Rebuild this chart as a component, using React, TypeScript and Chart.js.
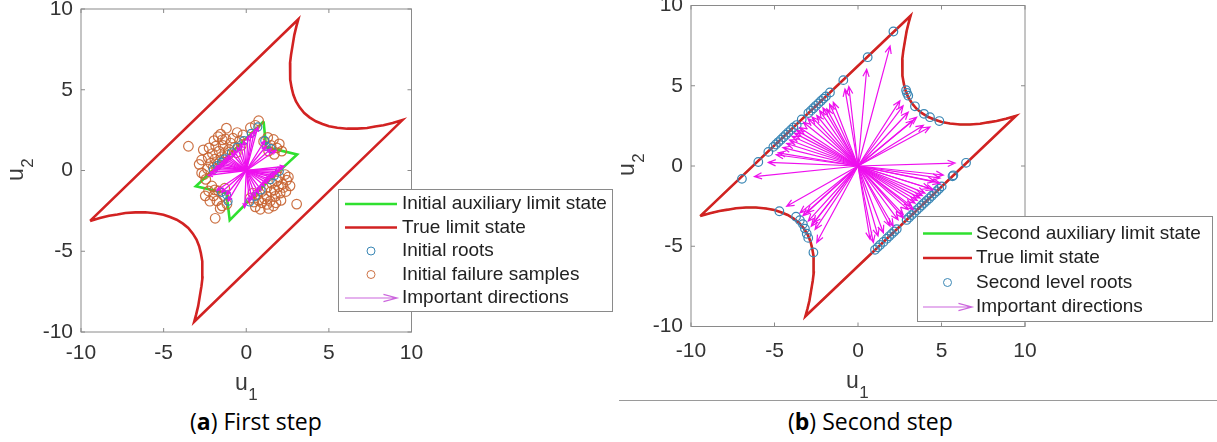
import React, { useEffect, useRef } from "react";
import { Chart, registerables } from "chart.js";

Chart.register(...registerables);

// ---------------- data ----------------
const tickValues = [-10, -5, 0, 5, 10];
const tickLabels = ["-10", "-5", "0", "5", "10"];

// True limit state (closed loop: left corner -> top corner -> upper arc -> right corner -> bottom corner -> lower arc)
const limitU1 = [-9.45, 3.15, 3.03, 2.91, 2.81, 2.71, 2.65, 2.65, 2.67, 2.75, 2.85, 3.01, 3.23, 3.51, 3.83, 4.21, 4.61, 5.01, 5.51, 6.11, 6.71, 7.31, 7.8, 8.3, 8.86, 9.45,
  -3.15, -3.03, -2.91, -2.81, -2.71, -2.65, -2.65, -2.67, -2.75, -2.85, -3.01, -3.23, -3.51, -3.83, -4.21, -4.61, -5.01, -5.51, -6.11, -6.71, -7.31, -7.8, -8.3, -8.86, -9.45];
const limitU2 = [-3.12, 9.36, 8.91, 8.4, 7.78, 7.16, 6.65, 6.13, 5.62, 5.1, 4.69, 4.28, 3.91, 3.56, 3.29, 3.05, 2.88, 2.74, 2.65, 2.59, 2.59, 2.63, 2.72, 2.8, 2.94, 3.12,
  -9.36, -8.91, -8.4, -7.78, -7.16, -6.65, -6.13, -5.62, -5.1, -4.69, -4.28, -3.91, -3.56, -3.29, -3.05, -2.88, -2.74, -2.65, -2.59, -2.59, -2.63, -2.72, -2.8, -2.94, -3.12];

// Initial auxiliary limit state (star)
const starU1 = [1.05, 1.2, 3.08, 1.2, -1.0, -1.2, -3.05, -1.2, 1.05];
const starU2 = [3.04, 1.45, 0.99, -0.8, -3.07, -1.4, -0.98, 0.8, 3.04];

// Initial failure samples
const failureSamples: [number, number][] = [
  [-3.5, 1.5], [-2.85, 0.38], [-2.6, 1.28], [-2.3, 0.8], [-2.55, -0.25], [-2.35, 0.1], [-2.15, 0.45], [-2.05, 1.05],
  [-1.9, 0.7], [-1.85, 1.5], [-1.7, 2.1], [-1.55, 2.25], [-1.65, 1.2], [-1.5, 0.85], [-1.4, 1.55], [-1.25, 1.95],
  [-1.2, 2.62], [-1.05, 1.3], [-0.95, 1.7], [-0.8, 2.0], [-0.7, 1.45], [-0.55, 2.35], [-0.4, 1.85], [-0.2, 2.2],
  [0.25, 2.65], [0.75, 3.08], [0.55, 2.8], [-2.0, 0.2], [-1.75, 0.4], [-1.3, 1.1], [-1.1, 0.95], [-2.25, 1.4],
  [-1.95, 1.85], [-1.45, 1.9], [-2.7, 0.65], [-0.6, 1.1], [-0.3, 1.55], [-1.6, 0.55], [-2.45, -0.55], [-2.7, -0.15],
  [1.05, 1.8], [1.3, 2.05], [1.65, 1.92], [1.85, 1.4], [2.15, 1.2], [1.5, 1.55], [1.7, 1.0], [2.0, 1.65], [1.35, 1.2],
  [-2.28, -1.27], [-2.48, -1.57], [-1.98, -1.57], [-1.78, -1.88], [-1.47, -2.19], [-1.17, -2.09], [-1.68, -1.27],
  [-1.37, -1.55], [-2.08, -0.96], [-1.58, -2.35], [-1.88, -2.96], [-2.2, -1.9], [-1.3, -1.1], [-1.9, -1.2],
  [3.05, -2.08], [0.25, -1.7], [0.45, -1.95], [0.65, -1.5], [0.95, -1.3], [1.25, -1.05], [1.25, -1.6], [1.45, -1.9],
  [1.75, -1.6], [2.05, -1.4], [2.25, -1.05], [1.65, -2.2], [1.25, -2.1], [0.95, -2.0], [0.75, -1.85], [2.35, -0.25],
  [2.45, -0.6], [1.85, -0.65], [2.2, -0.85], [1.95, -1.0], [1.5, -1.3], [1.1, -1.75], [2.55, -0.4], [2.4, -1.3],
  [2.1, -1.85], [0.55, -2.25], [1.55, -0.8], [1.35, -2.35], [0.85, -2.4], [2.65, -0.95], [1.8, -2.0], [0.4, -1.4],
  [2.0, -0.4], [1.7, -1.2]
];

// Initial roots
const initialRoots: [number, number][] = [
  [-2.0, 0.05], [-1.75, 0.3], [-1.5, 0.52], [-1.3, 0.72], [-0.9, 1.1], [-0.55, 1.45], [-0.15, 1.85], [0.3, 2.3],
  [0.7, 2.7], [1.12, 1.85], [1.2, 1.5], [1.5, 1.35], [2.0, -0.05], [1.7, -0.33], [1.45, -0.57], [0.9, -1.2],
  [0.55, -1.6], [0.2, -1.95], [-1.1, -1.9], [-1.2, -1.5], [-1.5, -1.35]
];

// Important directions, first step (arrow tips, from origin)
const initialArrows: [number, number][] = [
  [-2.3, -0.3], [-2.15, -0.1], [-2.0, 0.05], [-1.85, 0.2], [-1.75, 0.3], [-1.6, 0.42], [-1.5, 0.52], [-1.4, 0.62],
  [-1.3, 0.72], [-1.2, 0.82], [-1.1, 0.92], [-0.9, 1.1], [-0.75, 1.25], [-0.55, 1.45], [-0.35, 1.65], [-0.15, 1.85],
  [0.1, 2.1], [0.3, 2.3], [0.5, 2.5], [0.7, 2.7], [1.12, 1.85], [1.2, 1.5], [1.5, 1.35], [1.8, 1.25],
  [2.3, 0.25], [2.15, 0.1], [2.0, -0.05], [1.85, -0.2], [1.7, -0.33], [1.6, -0.43], [1.45, -0.57], [1.35, -0.65],
  [1.25, -0.78], [1.1, -0.95], [0.9, -1.2], [0.75, -1.4], [0.55, -1.6], [0.35, -1.8], [0.2, -1.95], [-0.1, -2.3],
  [-1.1, -1.9], [-1.2, -1.5], [-1.5, -1.35], [-1.8, -1.25]
];

// Second level roots
const secondRoots: [number, number][] = [
  [-6.95, -0.8], [-5.97, 0.25], [-5.37, 0.88], [-5.07, 1.19], [-4.92, 1.34], [-4.77, 1.49], [-4.62, 1.64], [-4.47, 1.79],
  [-4.32, 1.95], [-4.17, 2.1], [-4.02, 2.25], [-3.87, 2.4], [-3.67, 2.55], [-3.37, 2.9], [-2.97, 3.3], [-2.82, 3.45],
  [-2.67, 3.6], [-2.52, 3.75], [-2.37, 3.9], [-2.22, 4.05], [-2.07, 4.2], [-1.92, 4.34], [-1.68, 4.58], [-0.88, 5.35],
  [0.58, 6.78], [2.12, 8.38],
  [2.88, 4.72], [2.93, 4.55], [3.01, 4.38], [3.41, 3.72], [3.95, 3.25], [4.31, 3.04], [4.87, 2.8],
  [6.47, 0.2], [5.71, -0.58], [5.66, -0.64], [5.01, -1.27], [4.86, -1.42], [4.71, -1.57], [4.56, -1.72], [4.41, -1.87],
  [4.26, -2.02], [4.11, -2.17], [3.96, -2.31], [3.81, -2.46], [3.66, -2.61], [3.51, -2.76], [3.36, -2.91], [3.21, -3.06],
  [3.06, -3.21], [2.91, -3.36], [2.32, -3.93], [2.17, -4.08], [2.02, -4.23], [1.87, -4.38], [1.72, -4.53], [1.52, -4.73],
  [1.32, -4.92], [1.17, -5.07], [1.02, -5.22],
  [-4.71, -2.82], [-3.71, -3.16], [-3.48, -3.38], [-3.3, -3.62], [-3.18, -3.9], [-3.07, -4.22], [-2.98, -4.48], [-2.67, -5.39]
];

// Important directions, second step (arrow tips, from origin)
const secondArrows: [number, number][] = [
  [-6.2, -0.66], [-5.37, 0.22], [-4.9, 0.7], [-4.77, 0.82], [-4.5, 1.15], [-4.27, 1.4], [-4.1, 1.62], [-3.95, 1.85],
  [-3.8, 2.05], [-3.67, 2.22], [-3.5, 2.4], [-3.27, 2.73], [-3.0, 2.95], [-2.75, 3.05], [-2.47, 3.15], [-2.3, 3.45],
  [-2.1, 3.62], [-1.87, 3.56], [-1.7, 3.85], [-1.48, 3.97], [-0.78, 4.79], [-0.55, 4.95], [0.52, 6.03], [1.92, 7.47],
  [2.51, 4.07], [2.7, 3.75], [3.01, 3.35], [3.31, 2.84], [3.51, 3.04], [3.91, 2.53], [4.31, 2.43], [5.81, 0.18],
  [5.11, -0.56], [4.91, -0.75], [4.91, -1.07], [4.61, -0.97], [4.51, -1.48], [4.3, -1.4], [4.01, -1.69], [3.85, -1.85],
  [3.71, -2.0], [3.55, -2.15], [3.41, -2.31], [3.31, -2.72], [3.2, -2.5], [3.01, -2.72], [2.71, -3.03], [2.71, -3.23],
  [2.4, -3.35], [2.11, -3.75], [1.92, -3.75], [1.52, -4.16], [1.2, -4.36], [0.92, -4.77], [0.72, -4.57],
  [-4.27, -2.51], [-3.47, -2.92], [-3.07, -2.92], [-3.3, -3.1], [-2.98, -3.44], [-2.67, -3.54], [-2.8, -3.75],
  [-2.57, -3.95], [-2.47, -4.77]
];

const legendLabelsA = ["Initial auxiliary limit state", "True limit state", "Initial roots", "Initial failure samples", "Important directions"];
const legendLabelsB = ["Second auxiliary limit state", "True limit state", "Second level roots", "Important directions"];
const captionA = ["a", " First step"];
const captionB = ["b", " Second step"];

// ---------------- styles ----------------
const FONT = '"Liberation Sans", Arial, Helvetica, sans-serif';
const RED = "#d22222";
const GREEN = "#2fe02f";
const BLUE = "#3a87b5";
const BROWN = "rgba(200,100,50,0.9)";
const MAGENTA = "#ee10ee";
const TICK_COLOR = "#333333";
const BOX_COLOR = "#8a8a8a";

type Row = { kind: "line" | "circle" | "arrow"; color: string; label: string };
type Spec = {
  left: number; width: number; height: number;
  area: { left: number; top: number; right: number; bottom: number };
  xPad: number; yPad: number;
  u1: { x: number; y: number }; u2: { x: number; y: number };
  legend: { left: number; top: number; right: number; bottom: number; y0: number; gap: number; s0: number; s1: number; tx: number };
  rows: Row[];
  arrows: [number, number][]; arrowHead: number; arrowWidth: number;
  datasets: any[];
};

const pts = (a: [number, number][]) => a.map(([x, y]) => ({ x, y }));
const loop = (xs: number[], ys: number[]) => xs.map((x, i) => ({ x, y: ys[i] }));

function lineSet(data: any[], color: string, width: number, order: number) {
  return { data, showLine: true, borderColor: color, borderWidth: width, pointRadius: 0, tension: 0, fill: false, borderJoinStyle: "miter", order };
}
function circleSet(data: any[], color: string, r: number, w: number, order: number) {
  return { data, showLine: false, pointStyle: "circle", pointRadius: r, pointBorderWidth: w, borderColor: color, pointBorderColor: color, backgroundColor: "rgba(0,0,0,0)", pointBackgroundColor: "rgba(0,0,0,0)", order };
}

function drawArrow(ctx: CanvasRenderingContext2D, x0: number, y0: number, x1: number, y1: number, head: number, spread: number) {
  const ang = Math.atan2(y1 - y0, x1 - x0);
  ctx.beginPath();
  ctx.moveTo(x0, y0);
  ctx.lineTo(x1, y1);
  ctx.moveTo(x1 - head * Math.cos(ang - spread), y1 - head * Math.sin(ang - spread));
  ctx.lineTo(x1, y1);
  ctx.lineTo(x1 - head * Math.cos(ang + spread), y1 - head * Math.sin(ang + spread));
  ctx.stroke();
}

function subLabel(ctx: CanvasRenderingContext2D, main: string, sub: string) {
  ctx.font = `23px ${FONT}`;
  ctx.fillText(main, 0, 0);
  const w = ctx.measureText(main).width;
  ctx.font = `17px ${FONT}`;
  ctx.fillText(sub, w + 0.5, 10);
}

function makePlugin(s: Spec) {
  return {
    id: "figure",
    afterDatasetsDraw(chart: any) {
      const { ctx, chartArea: a, scales } = chart;
      const xs = scales.x, ys = scales.y;
      // arrows
      ctx.save();
      ctx.beginPath();
      ctx.rect(a.left, a.top, a.right - a.left, a.bottom - a.top);
      ctx.clip();
      ctx.strokeStyle = MAGENTA;
      ctx.lineWidth = s.arrowWidth;
      const x0 = xs.getPixelForValue(0), y0 = ys.getPixelForValue(0);
      for (const [u1, u2] of s.arrows) {
        const x1 = xs.getPixelForValue(u1), y1 = ys.getPixelForValue(u2);
        const len = Math.hypot(x1 - x0, y1 - y0);
        drawArrow(ctx, x0, y0, x1, y1, Math.min(s.arrowHead, len * 0.2), 0.4);
      }
      ctx.restore();
      // box + inward ticks
      ctx.save();
      ctx.strokeStyle = BOX_COLOR;
      ctx.lineWidth = 1;
      ctx.strokeRect(a.left, a.top, a.right - a.left, a.bottom - a.top);
      ctx.beginPath();
      for (const v of tickValues) {
        const px = xs.getPixelForValue(v), py = ys.getPixelForValue(v);
        ctx.moveTo(px, a.bottom); ctx.lineTo(px, a.bottom - 4);
        ctx.moveTo(px, a.top); ctx.lineTo(px, a.top + 4);
        ctx.moveTo(a.left, py); ctx.lineTo(a.left + 4, py);
        ctx.moveTo(a.right, py); ctx.lineTo(a.right - 4, py);
      }
      ctx.stroke();
      // axis titles
      ctx.fillStyle = "#3a3a3a";
      ctx.textBaseline = "alphabetic";
      ctx.textAlign = "left";
      ctx.save();
      ctx.translate(s.u1.x, s.u1.y);
      subLabel(ctx, "u", "1");
      ctx.restore();
      ctx.save();
      ctx.translate(s.u2.x, s.u2.y);
      ctx.rotate(-Math.PI / 2);
      subLabel(ctx, "u", "2");
      ctx.restore();
      ctx.restore();
    },
    afterDraw(chart: any) {
      const ctx: CanvasRenderingContext2D = chart.ctx;
      const L = s.legend;
      ctx.save();
      ctx.fillStyle = "#ffffff";
      ctx.fillRect(L.left, L.top, L.right - L.left, L.bottom - L.top);
      ctx.strokeStyle = BOX_COLOR;
      ctx.lineWidth = 1;
      ctx.strokeRect(L.left + 0.5, L.top + 0.5, L.right - L.left, L.bottom - L.top);
      s.rows.forEach((r, i) => {
        const y = L.y0 + i * L.gap;
        ctx.strokeStyle = r.color;
        if (r.kind === "line") {
          ctx.lineWidth = 2.5;
          ctx.beginPath(); ctx.moveTo(L.s0, y); ctx.lineTo(L.s1, y); ctx.stroke();
        } else if (r.kind === "circle") {
          ctx.lineWidth = 1;
          ctx.beginPath(); ctx.arc((L.s0 + L.s1) / 2, y, 4, 0, Math.PI * 2); ctx.stroke();
        } else {
          ctx.lineWidth = 1.2;
          drawArrow(ctx, L.s0, y, L.s1, y, 14, 0.26);
        }
        ctx.fillStyle = "#222222";
        ctx.font = `19px ${FONT}`;
        ctx.textBaseline = "middle";
        ctx.textAlign = "left";
        ctx.fillText(r.label, L.tx, y);
      });
      ctx.restore();
    }
  };
}

function axisOpts(which: "x" | "y", s: Spec) {
  return {
    type: "linear",
    min: -10,
    max: 10,
    position: which === "x" ? "bottom" : "left",
    grid: { display: false, drawTicks: false },
    border: { display: false },
    afterBuildTicks: (sc: any) => { sc.ticks = tickValues.map((v) => ({ value: v })); },
    afterFit: (sc: any) => {
      if (which === "x") sc.height = s.height - s.area.bottom; else sc.width = s.area.left;
      sc.paddingTop = 0; sc.paddingBottom = 0; sc.paddingLeft = 0; sc.paddingRight = 0;
    },
    ticks: {
      autoSkip: false, maxRotation: 0, minRotation: 0,
      padding: which === "x" ? s.xPad : s.yPad,
      color: TICK_COLOR,
      font: { family: FONT, size: 21 },
      callback: (_v: any, i: number) => tickLabels[i]
    }
  };
}

const specA: Spec = {
  left: 0, width: 615, height: 400,
  area: { left: 81, top: 9, right: 411.5, bottom: 332 },
  xPad: 9, yPad: 8,
  u1: { x: 235, y: 390 }, u2: { x: 23, y: 181 },
  legend: { left: 338, top: 189, right: 612, bottom: 311, y0: 204, gap: 23.5, s0: 345, s1: 397, tx: 402 },
  rows: [
    { kind: "line", color: GREEN, label: legendLabelsA[0] },
    { kind: "line", color: RED, label: legendLabelsA[1] },
    { kind: "circle", color: BLUE, label: legendLabelsA[2] },
    { kind: "circle", color: BROWN, label: legendLabelsA[3] },
    { kind: "arrow", color: "#cc66dd", label: legendLabelsA[4] }
  ],
  arrows: initialArrows, arrowHead: 5, arrowWidth: 1.3,
  datasets: [
    lineSet(loop(limitU1, limitU2), RED, 2.6, 5),
    lineSet(loop(starU1, starU2), GREEN, 2.6, 4),
    circleSet(pts(failureSamples), BROWN, 4.8, 1.2, 3),
    circleSet(pts(initialRoots), BLUE, 4, 1.2, 2)
  ]
};

const specB: Spec = {
  left: 615, width: 602, height: 400,
  area: { left: 76, top: 4.5, right: 410, bottom: 326.5 },
  xPad: 12, yPad: 8,
  u1: { x: 231, y: 388 }, u2: { x: 19, y: 176 },
  legend: { left: 302, top: 216, right: 597, bottom: 321, y0: 233.5, gap: 24.5, s0: 308, s1: 357, tx: 361 },
  rows: [
    { kind: "line", color: GREEN, label: legendLabelsB[0] },
    { kind: "line", color: RED, label: legendLabelsB[1] },
    { kind: "circle", color: BLUE, label: legendLabelsB[2] },
    { kind: "arrow", color: "#cc66dd", label: legendLabelsB[3] }
  ],
  arrows: secondArrows, arrowHead: 8, arrowWidth: 1.2,
  datasets: [
    lineSet(loop(limitU1, limitU2), GREEN, 1.5, 6),
    lineSet(loop(limitU1, limitU2), RED, 2.6, 5),
    circleSet(pts(secondRoots), BLUE, 4.3, 1.2, 2)
  ]
};

function Panel({ spec }: { spec: Spec }) {
  const ref = useRef<HTMLCanvasElement>(null);
  useEffect(() => {
    const a = spec.area;
    const chart = new Chart(ref.current as HTMLCanvasElement, {
      type: "scatter",
      data: { datasets: spec.datasets },
      options: {
        responsive: false,
        animation: false,
        devicePixelRatio: 1,
        events: [],
        layout: { padding: { left: 0, top: a.top, right: spec.width - a.right, bottom: 0 } },
        plugins: { legend: { display: false }, tooltip: { enabled: false } },
        scales: { x: axisOpts("x", spec), y: axisOpts("y", spec) }
      } as any,
      plugins: [makePlugin(spec) as any]
    } as any);
    return () => chart.destroy();
  }, [spec]);
  return (
    <canvas
      ref={ref}
      width={spec.width}
      height={spec.height}
      style={{ position: "absolute", left: spec.left, top: 0, width: spec.width, height: spec.height }}
    />
  );
}

const captionStyle: React.CSSProperties = {
  position: "absolute",
  top: 409.5,
  fontFamily: '"Open Sans", "Noto Sans", sans-serif',
  fontSize: 23,
  lineHeight: 1,
  color: "#000",
  whiteSpace: "nowrap"
};

export default function App() {
  return (
    <div style={{ position: "absolute", left: 0, top: 0, width: 1217, height: 442, background: "#fff", overflow: "hidden" }}>
      <Panel spec={specA} />
      <Panel spec={specB} />
      <div style={{ position: "absolute", left: 619, top: 400, width: 598, height: 1, background: "#9a9a9a" }} />
      <div style={{ ...captionStyle, left: 190 }}>(<b>{captionA[0]}</b>){captionA[1]}</div>
      <div style={{ ...captionStyle, left: 788 }}>(<b>{captionB[0]}</b>){captionB[1]}</div>
    </div>
  );
}
